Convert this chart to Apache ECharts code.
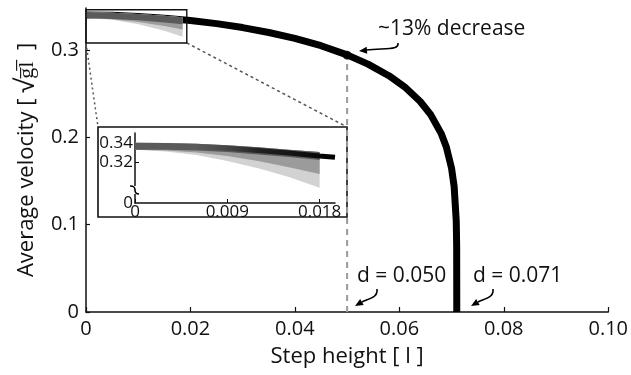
<!DOCTYPE html>
<html><head><meta charset="utf-8">
<script src="https://cdn.jsdelivr.net/npm/echarts@6/dist/echarts.min.js"></script>
<style>html,body{margin:0;padding:0;background:#fff}#c{width:631px;height:375px}</style>
</head><body><div id="c"></div>
<script>
const FONT = 'Open Sans';

// Main curve: average velocity against step height
const stepHeight  = [0, 0.005, 0.01, 0.015, 0.02, 0.025, 0.03, 0.035, 0.04, 0.045, 0.05, 0.054, 0.058, 0.061, 0.064, 0.066, 0.068, 0.069, 0.070, 0.0705, 0.0709, 0.07098, 0.071];
const avgVelocity = [0.340, 0.3396, 0.3383, 0.3364, 0.3336, 0.3301, 0.3256, 0.3200, 0.3133, 0.3048, 0.2943, 0.2838, 0.2705, 0.2578, 0.2410, 0.2259, 0.2045, 0.1889, 0.1646, 0.1434, 0.1040, 0.0755, 0];

// Marked point (~13% decrease) and critical heights
const markStep = 0.050;
const markVelocity = 0.294;
const criticalStep = 0.071;

// Axis ticks
const xTicks = [0, 0.02, 0.04, 0.06, 0.08, 0.10];
const yTicks = [0, 0.1, 0.2, 0.3];

// Gray spread bands near zero step height (main axes)
const bandStep   = [0, 0.005, 0.01, 0.015, 0.0185];
const bandUpper  = [0.3435, 0.3425, 0.341, 0.339, 0.3375];
const darkLower  = [0.3365, 0.3355, 0.334, 0.3315, 0.3295];
const midLower   = [0.3365, 0.335, 0.332, 0.3275, 0.3235];
const lightLower = [0.3365, 0.3345, 0.3295, 0.322, 0.315];

// Inset (magnified start of the curve)
const insetStep       = [0, 0.003, 0.006, 0.009, 0.012, 0.015, 0.018];
const insetUpper      = [0.3400, 0.3398, 0.3390, 0.3375, 0.3355, 0.3330, 0.3305];
const insetDarkLower  = [0.3330, 0.3328, 0.3320, 0.3305, 0.3280, 0.3255, 0.3225];
const insetMidLower   = [0.3330, 0.3320, 0.3300, 0.3265, 0.3215, 0.3150, 0.3080];
const insetLightLower = [0.3330, 0.3310, 0.3275, 0.3215, 0.3140, 0.3050, 0.2940];
const insetLineStep   = [0.006, 0.009, 0.012, 0.015, 0.018, 0.0195];
const insetLineVel    = [0.3362, 0.3345, 0.3322, 0.3296, 0.3266, 0.3252];
const insetXTicks = [0, 0.009, 0.018];
const insetYMin = 0.2785;
const insetYTicks = [insetYMin, 0.32, 0.34];
const insetYLabels = ['0', '0.32', '0.34'];

// Region of the main axes shown magnified in the inset
const zoomStep = [0, 0.0193];
const zoomVel  = [0.308, 0.346];

const GRAY_DARK = '#5a5a5a', GRAY_MID = '#9b9b9b', GRAY_LIGHT = '#d2d2d2';

function band(xs, lo, hi, color, axis, z) {
  return {
    type: 'custom', xAxisIndex: axis, yAxisIndex: axis, silent: true, z: z,
    data: xs.map((x, i) => [x, lo[i], hi[i]]),
    renderItem: (params, api) => {
      if (params.dataIndex !== 0) return null;
      const pts = [];
      for (let i = 0; i < xs.length; i++) pts.push(api.coord([xs[i], hi[i]]));
      for (let i = xs.length - 1; i >= 0; i--) pts.push(api.coord([xs[i], lo[i]]));
      return { type: 'polygon', shape: { points: pts }, style: { fill: color } };
    }
  };
}

const chart = echarts.init(document.getElementById('c'), null, { renderer: 'canvas' });

const INSET = { left: 98, top: 127, right: 347, bottom: 217 };

const option = {
  animation: false,
  textStyle: { fontFamily: FONT },
  grid: [
    { left: 86, right: 22, top: 8, bottom: 63 },
    { left: 135, right: 296, top: 133, bottom: 172 }
  ],
  xAxis: [
    {
      type: 'value', gridIndex: 0, min: 0, max: 0.10, interval: 0.02,
      name: 'Step height [ l ]', nameLocation: 'middle', nameGap: 34,
      nameTextStyle: { fontSize: 22, color: '#111', fontFamily: FONT },
      axisLine: { lineStyle: { color: '#111', width: 1.5 } },
      axisTick: { inside: true, length: 5, lineStyle: { color: '#111', width: 1.2 }, customValues: xTicks },
      axisLabel: { customValues: xTicks, margin: 7, fontSize: 20, color: '#111', fontFamily: FONT,
        formatter: v => v === 0 ? '0' : v.toFixed(2) },
      splitLine: { show: false }
    },
    {
      type: 'value', gridIndex: 1, min: 0, max: 0.0195,
      axisLine: { lineStyle: { color: '#111', width: 1.5 } },
      axisTick: { inside: true, length: 4, lineStyle: { color: '#111' }, customValues: insetXTicks },
      axisLabel: { customValues: insetXTicks, margin: 1, fontSize: 17, color: '#111', fontFamily: FONT,
        formatter: v => v === 0 ? '0' : v.toFixed(3) },
      splitLine: { show: false }, z: 5
    }
  ],
  yAxis: [
    {
      type: 'value', gridIndex: 0, min: 0, max: 0.348,
      name: 'Average velocity [ {s|√}g̅l̅  ]', nameLocation: 'middle', nameGap: 45, nameRotate: 90,
      nameTextStyle: { fontSize: 22, color: '#111', fontFamily: FONT,
        rich: { s: { fontSize: 26, color: '#111', fontFamily: FONT } } },
      axisLine: { show: true, lineStyle: { color: '#111', width: 1.5 } },
      axisTick: { show: true, inside: true, length: 4, lineStyle: { color: '#111', width: 1.2 }, customValues: yTicks },
      axisLabel: { customValues: yTicks, margin: 7, fontSize: 20, color: '#111', fontFamily: FONT,
        formatter: v => v === 0 ? '0' : v.toFixed(1) },
      splitLine: { show: false }
    },
    {
      type: 'value', gridIndex: 1, min: insetYMin, max: 0.35,
      axisLine: { show: true, lineStyle: { color: '#111', width: 1.5 } },
      axisTick: { show: true, inside: true, length: 4, lineStyle: { color: '#111' }, customValues: [0.32, 0.34] },
      axisLabel: { customValues: insetYTicks, margin: 2, fontSize: 17, color: '#111', fontFamily: FONT,
        formatter: v => insetYLabels[insetYTicks.indexOf(v)] ?? '' },
      splitLine: { show: false }, z: 5
    }
  ],
  series: [
    {
      type: 'line', xAxisIndex: 0, yAxisIndex: 0, z: 3,
      data: [[markStep, 0], [markStep, markVelocity]],
      symbol: 'none', lineStyle: { color: '#9a9a9a', width: 2, type: [6, 5] }
    },
    {
      type: 'line', xAxisIndex: 0, yAxisIndex: 0, z: 4,
      data: stepHeight.map((d, i) => [d, avgVelocity[i]]),
      symbol: 'none',
      lineStyle: { color: '#000', width: 7, join: 'round', cap: 'butt' }
    },
    band(bandStep, lightLower, bandUpper, GRAY_LIGHT, 0, 5),
    band(bandStep, midLower, bandUpper, GRAY_MID, 0, 6),
    band(bandStep, darkLower, bandUpper, GRAY_DARK, 0, 7),
    {
      type: 'scatter', xAxisIndex: 0, yAxisIndex: 0, z: 8,
      data: [[markStep, markVelocity]], symbolSize: 9, itemStyle: { color: '#000' }
    },
    band(insetStep, insetLightLower, insetUpper, GRAY_LIGHT, 1, 10),
    band(insetStep, insetMidLower, insetUpper, GRAY_MID, 1, 11),
    band(insetStep, insetDarkLower, insetUpper, GRAY_DARK, 1, 12),
    {
      type: 'line', xAxisIndex: 1, yAxisIndex: 1, z: 13,
      data: insetLineStep.map((d, i) => [d, insetLineVel[i]]),
      symbol: 'none',
      lineStyle: { width: 5, color: new echarts.graphic.LinearGradient(0, 0, 1, 0, [
        { offset: 0, color: 'rgba(60,60,60,0)' }, { offset: 0.45, color: '#222' }, { offset: 1, color: '#000' }]) }
    }
  ]
};
chart.setOption(option);

// Annotations, inset frame and connectors
const boxTL = chart.convertToPixel({ gridIndex: 0 }, [zoomStep[0], zoomVel[1]]);
const boxBR = chart.convertToPixel({ gridIndex: 0 }, [zoomStep[1], zoomVel[0]]);
const insetOrigin = chart.convertToPixel({ gridIndex: 1 }, [0, insetYMin]);
const breakY = insetOrigin[1] - 14;
const bx0 = insetOrigin[0];

function curve(p, z) {
  return { type: 'bezierCurve', z: z || 20,
    shape: { x1: p[0], y1: p[1], cpx1: p[2], cpy1: p[3], cpx2: p[4], cpy2: p[5], x2: p[6], y2: p[7] },
    style: { stroke: '#000', lineWidth: 1.6, fill: null } };
}

function arrow(p, tip, angle) {
  const a = angle * Math.PI / 180, L = 8, W = 3.5;
  const bx = tip[0] - L * Math.cos(a), by = tip[1] - L * Math.sin(a);
  const nx = -Math.sin(a) * W, ny = Math.cos(a) * W;
  return [
    curve(p),
    { type: 'polygon', shape: { points: [tip, [bx + nx, by + ny], [bx - nx, by - ny]] }, style: { fill: '#000' }, z: 20 }
  ];
}

const label = (x, y, t) => ({ type: 'text', x: x, y: y, z: 20,
  style: { text: t, font: `21px "${FONT}"`, fill: '#111', textVerticalAlign: 'middle' } });

chart.setOption({
  graphic: [
    { type: 'rect', shape: { x: INSET.left, y: INSET.top, width: INSET.right - INSET.left, height: INSET.bottom - INSET.top },
      style: { fill: '#fff', stroke: '#111', lineWidth: 1.6 }, z: -5 },
    { type: 'rect', shape: { x: boxTL[0], y: boxTL[1], width: boxBR[0] - boxTL[0], height: boxBR[1] - boxTL[1] },
      style: { fill: null, stroke: '#111', lineWidth: 1.4 }, z: 30 },
    { type: 'line', shape: { x1: boxTL[0], y1: boxBR[1], x2: INSET.left, y2: INSET.top },
      style: { stroke: '#555', lineWidth: 1.5, lineDash: [2, 3] }, z: 2 },
    { type: 'line', shape: { x1: boxBR[0], y1: boxBR[1], x2: INSET.right, y2: INSET.top },
      style: { stroke: '#555', lineWidth: 1.5, lineDash: [3, 3] }, z: 2 },
    // axis break on the inset's y axis
    { type: 'rect', shape: { x: bx0 - 3, y: breakY - 3, width: 6, height: 8 }, style: { fill: '#fff' }, z: 25 },
    curve([bx0 - 5, breakY - 3, bx0 - 1, breakY - 3, bx0, breakY - 2, bx0, breakY + 1], 26),
    curve([bx0, breakY + 1, bx0, breakY + 4, bx0 + 1, breakY + 5, bx0 + 4, breakY + 5], 26),
    label(378, 29, '~13% decrease'),
    label(357, 276, 'd = 0.050'),
    label(473, 276, 'd = 0.071'),
    ...arrow([398, 43, 399, 50, 388, 48, 366, 50], [359, 51], 175),
    ...arrow([377, 289, 378, 297, 371, 298, 362, 302], [355, 306], 150),
    ...arrow([493, 289, 494, 297, 487, 298, 478, 302], [471, 306], 150)
  ]
});
</script>
</body></html>
